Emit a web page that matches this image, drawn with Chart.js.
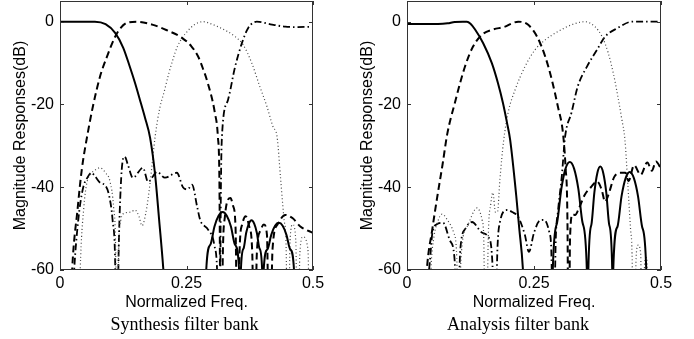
<!DOCTYPE html>
<html>
<head>
<meta charset="utf-8">
<script src="https://cdn.jsdelivr.net/npm/chart.js@4.4.1/dist/chart.umd.min.js"></script>
<style>
  html, body { margin: 0; padding: 0; background: #fff; }
  #wrap { position: relative; width: 694px; height: 339px; }
  canvas { position: absolute; top: 0; }
  #syn { left: 0; }
  #ana { left: 347px; }
</style>
</head>
<body>
<div id="wrap">
  <canvas id="syn" width="347" height="339"></canvas>
  <canvas id="ana" width="347" height="339"></canvas>
</div>
<script>
// axis ticks
const freqTicks = [0, 0.25, 0.5];
const dbTicks = [-60, -40, -20, 0];

// Synthesis filter bank (values below -60 dB are off the plot)
const synH0F  = [0, 0.04, 0.069, 0.09, 0.109, 0.125, 0.138, 0.148, 0.158, 0.168, 0.178, 0.188, 0.196, 0.204, 0.212, 0.25, 0.287, 0.289, 0.2971, 0.3053, 0.3134, 0.3215, 0.3296, 0.3378, 0.3459, 0.354, 0.356, 0.3575, 0.3628, 0.368, 0.3733, 0.3785, 0.3838, 0.389, 0.3943, 0.3995, 0.401, 0.4025, 0.41, 0.4175, 0.425, 0.4325, 0.44, 0.4475, 0.455, 0.4625, 0.464, 0.5];
const synH0Db = [0, 0, 0, -0.6, -2.7, -6.3, -10.9, -14.7, -18.9, -23.2, -28, -37, -48, -59.5, -75, -90, -90, -60, -53.9, -49.5, -46.9, -46, -46.9, -49.5, -53.9, -60, -90, -60, -54.8, -51, -48.8, -48, -48.8, -51, -54.8, -60, -90, -60, -55, -51.5, -49.3, -48.6, -49.3, -51.5, -55, -60, -90, -90];

const synH1F  = [0, 0.018, 0.024, 0.035, 0.043, 0.055, 0.065, 0.079, 0.093, 0.109, 0.12, 0.132, 0.152, 0.182, 0.21, 0.241, 0.26, 0.273, 0.283, 0.292, 0.306, 0.312, 0.315, 0.318, 0.322, 0.326, 0.332, 0.337, 0.342, 0.347, 0.351, 0.355, 0.36, 0.367, 0.374, 0.38, 0.384, 0.389, 0.396, 0.403, 0.409, 0.414, 0.42, 0.43, 0.445, 0.46, 0.475, 0.49, 0.5];
const synH1Db = [-90, -80, -60, -45, -35.8, -26.8, -20.5, -13.3, -8.4, -3.6, -1.5, -0.3, 0, -0.7, -2, -3.9, -6, -8.4, -11.5, -14.8, -22, -27.8, -38, -90, -55, -47, -43, -42.6, -44.5, -50, -90, -55, -49, -47, -49.5, -56, -90, -56, -50.5, -49, -51.5, -90, -55, -49, -46.7, -47.5, -49.5, -50.5, -51];

const synH2F  = [0, 0.035, 0.04, 0.047, 0.053, 0.06, 0.07, 0.079, 0.09, 0.099, 0.106, 0.11, 0.113, 0.116, 0.12, 0.127, 0.14, 0.148, 0.156, 0.162, 0.17, 0.178, 0.188, 0.197, 0.207, 0.215, 0.223, 0.232, 0.241, 0.247, 0.266, 0.283, 0.30, 0.312, 0.330, 0.346, 0.362, 0.379, 0.395, 0.409, 0.421, 0.429, 0.436, 0.443, 0.447, 0.45, 0.455, 0.46, 0.466, 0.47, 0.474, 0.48, 0.49, 0.495, 0.5];
const synH2Db = [-90, -90, -60, -45, -39, -37, -35.8, -35.3, -36.5, -38.7, -45, -55, -90, -55, -48, -46.3, -46, -45.5, -47, -49.3, -46, -39, -27.8, -21, -16.4, -12.5, -9.2, -6, -4, -3, -0.7, 0, -0.6, -1.2, -2.3, -3.6, -5.6, -10, -15.7, -20.5, -25.4, -27.8, -38, -48, -55, -90, -52, -49, -53, -90, -56, -52, -55, -90, -70];

const synH3F  = [0, 0.022, 0.028, 0.036, 0.045, 0.055, 0.062, 0.07, 0.08, 0.089, 0.097, 0.104, 0.109, 0.112, 0.116, 0.12, 0.124, 0.128, 0.134, 0.144, 0.164, 0.174, 0.192, 0.2075, 0.231, 0.243, 0.252, 0.261, 0.271, 0.277, 0.293, 0.305, 0.311, 0.315, 0.318, 0.320, 0.332, 0.346, 0.360, 0.372, 0.389, 0.419, 0.445, 0.47, 0.5];
const synH3Db = [-90, -75, -60, -48, -40.5, -37.5, -36.5, -37.5, -39, -39.5, -42, -48, -58, -85, -55, -40, -33.5, -32.6, -34.5, -37.7, -35.3, -38.7, -36.3, -37.7, -36.5, -40, -40.5, -39.4, -44.7, -47.9, -50.3, -54, -62, -90, -40, -27.8, -18.9, -10.9, -5, -1.5, 0, -0.7, -1.2, -1.3, -1.2];

// Analysis filter bank
const anaH0F  = [0, 0.061, 0.08, 0.094, 0.11, 0.118, 0.125, 0.134, 0.150, 0.167, 0.179, 0.189, 0.197, 0.203, 0.215, 0.221, 0.228, 0.235, 0.26, 0.285, 0.287, 0.2954, 0.3038, 0.3121, 0.3205, 0.3289, 0.3373, 0.3456, 0.354, 0.356, 0.357, 0.3629, 0.3688, 0.3746, 0.3805, 0.3864, 0.3923, 0.3981, 0.404, 0.405, 0.406, 0.4141, 0.4223, 0.4304, 0.4385, 0.4466, 0.4548, 0.4629, 0.471, 0.473, 0.5];
const anaH0Db = [-0.56, -0.56, -0.4, -0.05, 0, 0, -0.5, -1.9, -5.2, -10, -14.8, -19.7, -24.5, -28.5, -42, -50, -59.5, -80, -90, -90, -60, -48.6, -40.4, -35.5, -33.9, -35.5, -40.4, -48.6, -60, -90, -60, -49.1, -41.3, -36.6, -35, -36.6, -41.3, -49.1, -60, -90, -60, -49.6, -42.2, -37.8, -36.3, -37.8, -42.2, -49.6, -60, -90, -90];

const anaH1F  = [0, 0.03, 0.039, 0.05, 0.06, 0.07, 0.079, 0.094, 0.114, 0.130, 0.148, 0.169, 0.193, 0.205, 0.219, 0.238, 0.256, 0.272, 0.285, 0.297, 0.307, 0.312, 0.316, 0.318, 0.321, 0.326, 0.331, 0.337, 0.35, 0.362, 0.374, 0.383, 0.39, 0.396, 0.408, 0.42, 0.43, 0.436, 0.447, 0.46, 0.473, 0.482, 0.49, 0.5];
const anaH1Db = [-90, -80, -60, -50, -42, -34.5, -27.3, -19.7, -10.9, -6, -3.1, -1.9, -1.2, -0.5, 0, -0.7, -3.6, -8.4, -14, -20.5, -26.9, -35, -50, -90, -52, -46.5, -46.7, -45.5, -41.8, -40, -38.6, -40.5, -43.5, -42, -37.5, -36.5, -36.5, -38.5, -34.7, -37, -34, -36, -33.8, -35.5];

const anaH2F  = [0, 0.042, 0.047, 0.053, 0.06, 0.069, 0.08, 0.092, 0.098, 0.102, 0.106, 0.118, 0.138, 0.148, 0.151, 0.155, 0.16, 0.165, 0.169, 0.174, 0.178, 0.183, 0.19, 0.199, 0.213, 0.232, 0.252, 0.272, 0.297, 0.325, 0.350, 0.370, 0.384, 0.396, 0.406, 0.415, 0.423, 0.429, 0.435, 0.44, 0.443, 0.447, 0.451, 0.455, 0.46, 0.463, 0.468, 0.472, 0.476, 0.5];
const anaH2Db = [-90, -80, -60, -52, -48.5, -46.5, -48, -51, -57, -90, -58, -49.6, -45, -48, -52, -90, -52, -44, -41.3, -46, -46, -38, -29, -22, -16.4, -10.9, -6.8, -4.4, -2.4, -0.7, 0, -1.2, -3.6, -7.5, -12.4, -18, -23.7, -28.5, -40, -50, -56, -90, -57, -54, -56, -90, -58, -57, -90, -90];

const anaH3F  = [0, 0.035, 0.04, 0.045, 0.05, 0.058, 0.071, 0.085, 0.094, 0.098, 0.105, 0.115, 0.128, 0.148, 0.160, 0.168, 0.173, 0.178, 0.183, 0.197, 0.207, 0.219, 0.232, 0.24, 0.25, 0.262, 0.27, 0.28, 0.284, 0.288, 0.293, 0.297, 0.305, 0.311, 0.324, 0.336, 0.354, 0.374, 0.39, 0.415, 0.443, 0.5];
const anaH3Db = [-90, -80, -65, -58, -51, -49, -48.6, -53, -58, -80, -55, -50, -48.4, -51, -52, -58, -80, -55, -48.4, -45.5, -46, -47.2, -51.5, -55.6, -51, -48, -47.9, -50.8, -55, -80, -52, -46, -37, -28, -21.9, -15.7, -10.9, -6.8, -3.6, -1.5, 0, 0];

Chart.defaults.font.family = '"Liberation Sans", Arial, sans-serif';
Chart.defaults.font.size = 16;
Chart.defaults.color = '#000';

const styles = {
  solid:   { borderColor: '#000', borderWidth: 2,   borderDash: [] },
  dashed:  { borderColor: '#000', borderWidth: 2,   borderDash: [7, 4] },
  dotted:  { borderColor: '#444', borderWidth: 1.2, borderDash: [1, 2.5] },
  dashdot: { borderColor: '#000', borderWidth: 1.8, borderDash: [7, 3, 1.5, 3] }
};

function pts(f, db) {
  return f.map((v, i) => ({ x: v, y: db[i] }));
}

// box round the plot plus the small inward tick marks
const frame = {
  id: 'frame',
  afterDatasetsDraw(chart) {
    const { ctx, chartArea: a, scales: { x, y } } = chart;
    ctx.save();
    ctx.strokeStyle = '#333';
    ctx.lineWidth = 1;
    ctx.strokeRect(a.left + 0.5, a.top + 0.5, a.width - 1, a.height - 1);
    ctx.beginPath();
    freqTicks.forEach(v => {
      const px = Math.round(x.getPixelForValue(v)) + 0.5;
      ctx.moveTo(px, a.bottom); ctx.lineTo(px, a.bottom - 4);
      ctx.moveTo(px, a.top); ctx.lineTo(px, a.top + 4);
    });
    dbTicks.forEach(v => {
      const py = Math.round(y.getPixelForValue(v)) + 0.5;
      ctx.moveTo(a.left, py); ctx.lineTo(a.left + 4, py);
      ctx.moveTo(a.right, py); ctx.lineTo(a.right - 4, py);
    });
    ctx.stroke();
    ctx.restore();
  }
};

// serif caption under each panel
const caption = {
  id: 'caption',
  afterDraw(chart, args, opts) {
    const { ctx, chartArea: a } = chart;
    ctx.save();
    ctx.font = '18px "Liberation Serif", "Times New Roman", serif';
    ctx.fillStyle = '#000';
    ctx.textAlign = 'center';
    ctx.textBaseline = 'middle';
    ctx.fillText(opts.text, (a.left + a.right) / 2 + opts.shift, 325);
    ctx.restore();
  }
};

function makeChart(id, text, shift, padRight, series) {
  return new Chart(document.getElementById(id), {
    type: 'line',
    data: {
      datasets: series.map(s => Object.assign({
        data: pts(s[0], s[1]),
        pointRadius: 0,
        fill: false,
        cubicInterpolationMode: 'monotone'
      }, styles[s[2]]))
    },
    options: {
      responsive: false,
      animation: false,
      devicePixelRatio: 1,
      layout: { padding: { top: 1, left: 0, right: padRight, bottom: 25 } },
      plugins: {
        legend: { display: false },
        tooltip: { enabled: false },
        caption: { text: text, shift: shift }
      },
      scales: {
        x: {
          type: 'linear', min: 0, max: 0.5,
          grid: { display: false, drawTicks: false }, border: { display: false },
          afterBuildTicks: s => { s.ticks = freqTicks.map(v => ({ value: v })); },
          afterFit: s => { s.height = 44; s.paddingLeft = 0; s.paddingRight = 0; },
          ticks: { padding: 4, maxRotation: 0, autoSkip: false, callback: v => String(v) },
          title: { display: true, text: 'Normalized Freq.', padding: { top: 0, bottom: 2 } }
        },
        y: {
          type: 'linear', min: -60, max: 5,
          grid: { display: false, drawTicks: false }, border: { display: false },
          afterBuildTicks: s => { s.ticks = dbTicks.map(v => ({ value: v })); },
          afterFit: s => { s.width = 60; s.paddingTop = 0; s.paddingBottom = 0; },
          ticks: { padding: 6, autoSkip: false, callback: v => String(v) },
          title: { display: true, text: 'Magnitude Responses(dB)', padding: { top: 11, bottom: 0 } }
        }
      }
    },
    plugins: [frame, caption]
  });
}

makeChart('syn', 'Synthesis filter bank', -2, 34, [
  [synH0F, synH0Db, 'solid'],
  [synH1F, synH1Db, 'dashed'],
  [synH2F, synH2Db, 'dotted'],
  [synH3F, synH3Db, 'dashdot']
]);

makeChart('ana', 'Analysis filter bank', -16, 33, [
  [anaH0F, anaH0Db, 'solid'],
  [anaH1F, anaH1Db, 'dashed'],
  [anaH2F, anaH2Db, 'dotted'],
  [anaH3F, anaH3Db, 'dashdot']
]);
</script>
</body>
</html>
